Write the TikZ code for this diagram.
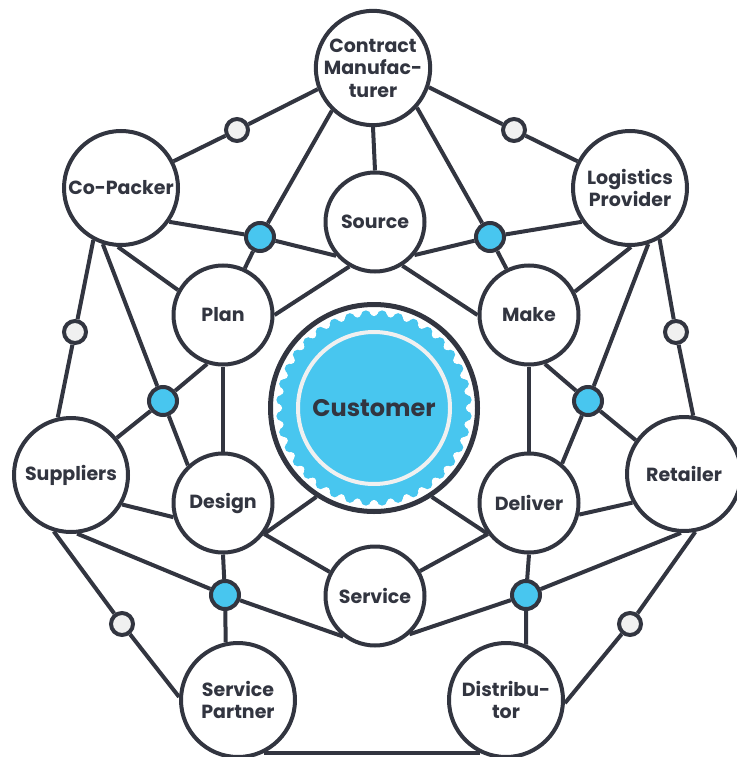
\documentclass[tikz,border=0pt]{standalone}
\usepackage{fontspec}
\setmainfont{Poppins}
\definecolor{ink}{HTML}{323540}
\definecolor{sky}{HTML}{48C6EF}
\definecolor{pale}{HTML}{F0F0F0}

\begin{document}
\begin{tikzpicture}[x=1pt,y=-1pt,
            partner node/.style={circle,draw=ink,fill=white,line width=4pt,minimum size=114pt,
              inner sep=0pt,align=center,text=ink,font=\bfseries\fontsize{19}{22.5}\selectfont},
            process node/.style={partner node,minimum size=99pt},
            hub dot/.style={circle,draw=ink,fill=sky,line width=4pt,minimum size=28pt,inner sep=0pt},
            link dot/.style={circle,draw=ink,fill=pale,line width=4pt,minimum size=22pt,inner sep=0pt}]

        \useasboundingbox (0,0) rectangle (736,757);

        % Define partners
        \node[partner node] (contract) at (373,68) {Contract\\Manufac-\\turer};
        \node[partner node] (copacker) at (121,188) {Co-Packer};
        \node[partner node] (logistics) at (630,188) {Logistics\\Provider};
        \node[partner node] (suppliers) at (71,475) {Suppliers};
        \node[partner node] (retailer) at (684,474) {Retailer};
        \node[partner node] (spartner) at (238,700) {Service\\Partner};
        \node[partner node] (distributor) at (506,700) {Distribu-\\tor};

        % Define processes
        \node[process node] (source) at (375,222) {Source};
        \node[process node] (plan) at (223,315) {Plan};
        \node[process node] (make) at (529,315) {Make};
        \node[process node] (design) at (223,503) {Design};
        \node[process node] (deliver) at (529,503) {Deliver};
        \node[process node] (service) at (375,596) {Service};

        % Define dots
        \node[hub dot] (b1) at (260,237) {};
        \node[hub dot] (b2) at (490,237) {};
        \node[hub dot] (b3) at (163,401) {};
        \node[hub dot] (b4) at (588,401) {};
        \node[hub dot] (b5) at (225,595) {};
        \node[hub dot] (b6) at (526,595) {};
        \node[link dot] (g1) at (237,130) {};
        \node[link dot] (g2) at (514,130) {};
        \node[link dot] (g3) at (75,332) {};
        \node[link dot] (g4) at (676,332) {};
        \node[link dot] (g5) at (122,624) {};
        \node[link dot] (g6) at (630,624) {};

        % Customer
        \node[circle,draw=ink,line width=5pt,minimum size=207pt] (customer) at (374,408) {};
        \fill[sky] (customer.center) circle (94);
        \foreach \a in {5,15,...,355}
            \fill[sky] (customer.center) ++(\a:93) circle (5);
        \foreach \a in {0,10,...,350}
            \fill[white] (customer.center) ++(\a:95.5) circle (3.6);
        \draw[pale,line width=4pt] (customer.center) circle (76);
        \node[text=ink,font=\bfseries\fontsize{24}{28}\selectfont] (custlabel) at (customer.center) {Customer};

        % Draw edges
        \path[draw=ink,line width=4pt]
            (contract.201) edge (g1)
            (g1) edge (copacker.27)
            (contract.341) edge (g2)
            (g2) edge (logistics.153)
            (contract.226) edge (b1)
            (contract.318) edge (b2)
            (contract.270) edge (source.90)
            (copacker.325) edge (b1)
            (b1) edge (source.221)
            (b1) edge (plan.65)
            (logistics.215) edge (b2)
            (b2) edge (source.320)
            (b2) edge (make.116)
            (plan.0) edge (source.240)
            (source.302) edge (make.180)
            (copacker.267) edge (plan.151)
            (copacker.252) edge (b3)
            (b3) edge (design.133)
            (copacker.242) edge (g3)
            (g3) edge (suppliers.103)
            (logistics.271) edge (make.27)
            (logistics.288) edge (b4)
            (b4) edge (deliver.50)
            (logistics.300) edge (g4)
            (g4) edge (retailer.81)
            (plan.252) edge (b3)
            (make.288) edge (b4)
            (plan.270) edge (design.90)
            (make.270) edge (deliver.90)
            (b3) edge (suppliers.39)
            (b4) edge (retailer.145)
            (suppliers.330) edge (design.196)
            (deliver.347) edge (retailer.209)
            (design.323) edge (customer.237)
            (design.323) edge (service.152)
            (deliver.217) edge (customer.303)
            (deliver.217) edge (service.29)
            (suppliers.276) edge (b5)
            (retailer.267) edge (b6)
            (suppliers.253) edge (g5)
            (g5) edge (spartner.177)
            (retailer.281) edge (g6)
            (g6) edge (distributor.357)
            (design.270) edge (b5)
            (b5) edge (spartner.102)
            (deliver.270) edge (b6)
            (b6) edge (distributor.70)
            (b5) edge (service.232)
            (b6) edge (service.312)
            (spartner.296) edge (distributor.244);

        \end{tikzpicture}
\end{document}
